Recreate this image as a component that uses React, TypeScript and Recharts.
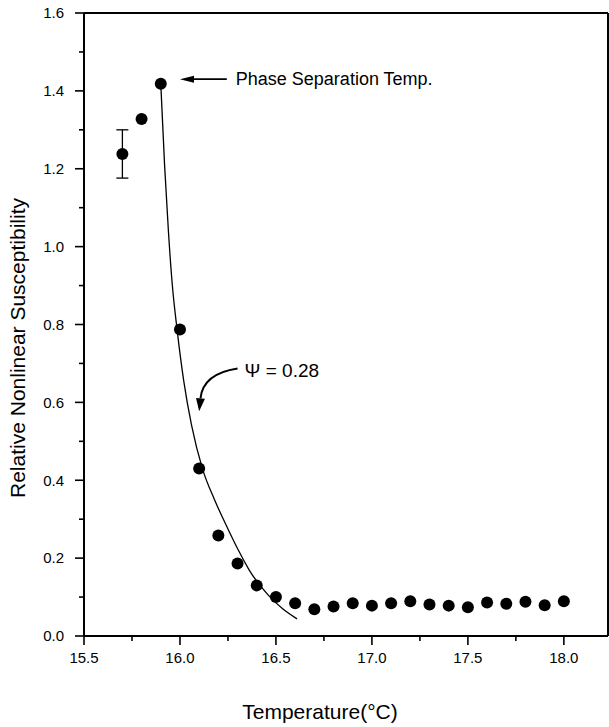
import React from 'react'
import {
  ComposedChart,
  Scatter,
  Line,
  XAxis,
  YAxis,
  ErrorBar,
  ReferenceLine,
  Label,
} from 'recharts'

// measured points: temperature (°C) and relative nonlinear susceptibility
const temps = [
  15.7, 15.8, 15.9, 16.0, 16.1, 16.2, 16.3, 16.4, 16.5, 16.6, 16.7, 16.8, 16.9,
  17.0, 17.1, 17.2, 17.3, 17.4, 17.5, 17.6, 17.7, 17.8, 17.9, 18.0,
]
const chi = [
  1.238, 1.328, 1.418, 0.787, 0.43, 0.258, 0.186, 0.13, 0.1, 0.084, 0.069, 0.076,
  0.084, 0.078, 0.084, 0.089, 0.081, 0.078, 0.074, 0.086, 0.083, 0.088, 0.079, 0.089,
]
// error bar only on the first point
const errors = [0.062]

// fitted curve (psi = 0.28)
const fitTemps = [
  15.9, 15.92, 15.94, 15.96, 15.985, 16.02, 16.06, 16.117, 16.18, 16.25, 16.31, 16.36, 16.46, 16.535, 16.61,
]
const fitChi = [
  1.418, 1.208, 1.038, 0.902, 0.787, 0.654, 0.542, 0.43, 0.35, 0.275, 0.215, 0.17, 0.105, 0.07, 0.044,
]

const xMajor = [15.5, 16.0, 16.5, 17.0, 17.5, 18.0]
const xMinor = [15.75, 16.25, 16.75, 17.25, 17.75]
const yMajor = [0, 0.2, 0.4, 0.6, 0.8, 1.0, 1.2, 1.4, 1.6]
const yMinor = [0.1, 0.3, 0.5, 0.7, 0.9, 1.1, 1.3, 1.5]

const X_MAX = 18.23
const FONT = '"Liberation Sans", Arial, sans-serif'

const points = temps.map((t, i) => ({ x: t, y: chi[i] }))
const errPoints = errors.map((e, i) => ({ x: temps[i], y: chi[i], err: e }))
const fit = fitTemps.map((t, i) => ({ x: t, y: fitChi[i] }))

const isMajor = (list: number[], v: number) => list.some((m) => Math.abs(m - v) < 1e-6)

function XTick(props: any) {
  const { x, y, payload } = props
  const major = isMajor(xMajor, payload.value)
  return (
    <g>
      <line x1={x} y1={y} x2={x} y2={y + (major ? 9 : 5)} stroke="#000" strokeWidth={1.6} />
      {major && (
        <text x={x} y={y + 27} textAnchor="middle" fontSize={15} fontFamily={FONT} fill="#000">
          {payload.value.toFixed(1)}
        </text>
      )}
    </g>
  )
}

function YTick(props: any) {
  const { x, y, payload } = props
  const major = isMajor(yMajor, payload.value)
  return (
    <g>
      <line x1={x} y1={y} x2={x - (major ? 9 : 5)} y2={y} stroke="#000" strokeWidth={1.6} />
      {major && (
        <text x={x - 20} y={y} dy="0.35em" textAnchor="end" fontSize={15} fontFamily={FONT} fill="#000">
          {payload.value.toFixed(1)}
        </text>
      )}
    </g>
  )
}

function PhaseArrow(props: any) {
  const { x1, y1, x2, y2 } = props
  return (
    <g>
      <line x1={x1} y1={y1} x2={x2 + 12} y2={y2} stroke="#000" strokeWidth={1.8} />
      <polygon points={`${x2},${y2} ${x2 + 14},${y2 - 3.5} ${x2 + 14},${y2 + 3.5}`} fill="#000" />
      <text x={x1 + 9} y={y1 + 6} fontSize={18} fontFamily={FONT} fill="#000">
        Phase Separation Temp.
      </text>
    </g>
  )
}

function PsiArrow(props: any) {
  const { x1, y1, x2, y2 } = props
  const cx = x2 + 0.1 * (x1 - x2)
  const cy = y1 + 0.12 * (y2 - y1)
  const dx = x2 - cx
  const dy = y2 - cy
  const len = Math.hypot(dx, dy)
  const ux = dx / len
  const uy = dy / len
  const hl = 13
  const hw = 4.5
  const bx = x2 - ux * hl
  const by = y2 - uy * hl
  return (
    <g>
      <path d={`M${x1},${y1} Q${cx},${cy} ${bx},${by}`} fill="none" stroke="#000" strokeWidth={2} />
      <polygon
        points={`${x2},${y2} ${bx - uy * hw},${by + ux * hw} ${bx + uy * hw},${by - ux * hw}`}
        fill="#000"
      />
      <text x={x1 + 7} y={y1 + 9} fontSize={19} fontFamily={FONT} fill="#000">
        Ψ = 0.28
      </text>
    </g>
  )
}

const Dot = (p: any) => <circle cx={p.cx} cy={p.cy} r={6} fill="#000" />

export default function App() {
  return (
    <div style={{ position: 'absolute', left: 0, top: 0, background: '#fff' }}>
      <ComposedChart width={609} height={727} margin={{ top: 13, right: 1, bottom: 0, left: 0 }}>
        <XAxis
          dataKey="x"
          type="number"
          domain={[15.5, X_MAX]}
          allowDataOverflow
          ticks={[...xMajor, ...xMinor].sort((a, b) => a - b)}
          tick={<XTick />}
          tickLine={false}
          tickSize={0}
          tickMargin={0}
          height={91}
          axisLine={{ stroke: '#000', strokeWidth: 2 }}
          interval={0}
        >
          <Label
            content={() => (
              <text x={320} y={719} textAnchor="middle" fontSize={21} fontFamily={FONT} fill="#000">
                Temperature(°C)
              </text>
            )}
          />
        </XAxis>
        <YAxis
          type="number"
          domain={[0, 1.6]}
          allowDataOverflow
          ticks={[...yMajor, ...yMinor].sort((a, b) => a - b)}
          tick={<YTick />}
          tickLine={false}
          tickSize={0}
          tickMargin={0}
          width={84}
          axisLine={{ stroke: '#000', strokeWidth: 2 }}
          interval={0}
        >
          <Label
            content={() => (
              <text
                x={25}
                y={348}
                transform="rotate(-90, 25, 348)"
                textAnchor="middle"
                fontSize={21}
                fontFamily={FONT}
                fill="#000"
              >
                Relative Nonlinear Susceptibility
              </text>
            )}
          />
        </YAxis>
        <ReferenceLine y={1.6} stroke="#000" strokeWidth={2} />
        <ReferenceLine x={X_MAX} stroke="#000" strokeWidth={2} />
        <Line
          data={fit}
          dataKey="y"
          type="monotone"
          stroke="#000"
          strokeWidth={1.3}
          dot={false}
          activeDot={false}
          isAnimationActive={false}
        />
        <Scatter data={points} dataKey="y" shape={Dot} isAnimationActive={false} />
        <Scatter data={errPoints} dataKey="y" shape={() => <g />} isAnimationActive={false}>
          <ErrorBar dataKey="err" direction="y" width={6} stroke="#000" strokeWidth={1.3} />
        </Scatter>
        <ReferenceLine
          segment={[
            { x: 16.244, y: 1.43 },
            { x: 16.0, y: 1.43 },
          ]}
          shape={PhaseArrow}
        />
        <ReferenceLine
          segment={[
            { x: 16.3, y: 0.687 },
            { x: 16.1, y: 0.577 },
          ]}
          shape={PsiArrow}
        />
      </ComposedChart>
    </div>
  )
}
